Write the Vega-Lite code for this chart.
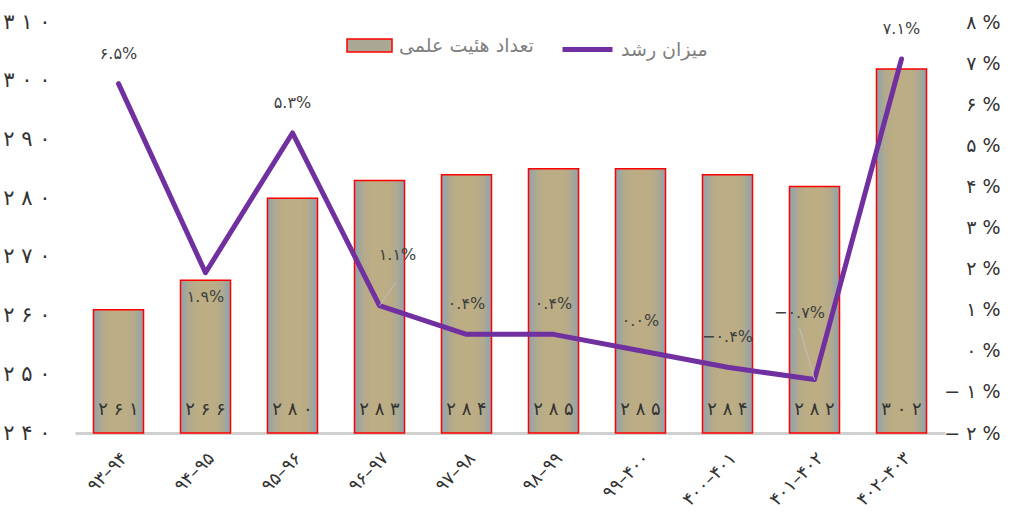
{
  "$schema": "https://vega.github.io/schema/vega-lite/v6.json",
  "width": 870,
  "height": 411,
  "autosize": {"type": "none"},
  "padding": {"left": 75, "top": 22, "right": 67, "bottom": 97},
  "background": "white",
  "config": {
    "view": {"stroke": null},
    "font": "DejaVu Sans"
  },
  "data": {
    "values": [
      {"p": "۹۳–۹۴", "n": 261, "nf": "۲ ۶ ۱", "g": 6.5, "gf": "۶.۵%"},
      {"p": "۹۴–۹۵", "n": 266, "nf": "۲ ۶ ۶", "g": 1.9, "gf": "۱.۹%"},
      {"p": "۹۵–۹۶", "n": 280, "nf": "۲ ۸ ۰", "g": 5.3, "gf": "۵.۳%"},
      {"p": "۹۶–۹۷", "n": 283, "nf": "۲ ۸ ۳", "g": 1.1, "gf": "۱.۱%"},
      {"p": "۹۷–۹۸", "n": 284, "nf": "۲ ۸ ۴", "g": 0.4, "gf": "۰.۴%"},
      {"p": "۹۸–۹۹", "n": 285, "nf": "۲ ۸ ۵", "g": 0.4, "gf": "۰.۴%"},
      {"p": "۹۹–۴۰۰", "n": 285, "nf": "۲ ۸ ۵", "g": 0.0, "gf": "۰.۰%"},
      {"p": "۴۰۰–۴۰۱", "n": 284, "nf": "۲ ۸ ۴", "g": -0.4, "gf": "−۰.۴%"},
      {"p": "۴۰۱–۴۰۲", "n": 282, "nf": "۲ ۸ ۲", "g": -0.7, "gf": "−۰.۷%"},
      {"p": "۴۰۲–۴۰۳", "n": 302, "nf": "۳ ۰ ۲", "g": 7.1, "gf": "۷.۱%"}
    ]
  },
  "encoding": {
    "x": {
      "field": "p",
      "type": "nominal",
      "sort": null,
      "scale": {"paddingInner": 0.425, "paddingOuter": 0.2125},
      "axis": {
        "title": null,
        "labelAngle": -45,
        "labelAlign": "right",
        "labelBaseline": "top",
        "labelPadding": 16,
        "labelFontSize": 18,
        "labelColor": "#333333",
        "ticks": false,
        "domainColor": "#d0d0d0",
        "domainWidth": 3
      }
    }
  },
  "layer": [
    {
      "layer": [
        {
          "mark": {
            "type": "bar", "stroke": "#ff0000", "strokeWidth": 1.5,
            "fill": {"gradient": "linear", "x1": 0, "y1": 0, "x2": 1, "y2": 0,
              "stops": [
                {"offset": 0, "color": "#8da2b0"},
                {"offset": 0.18, "color": "#b3aa8c"},
                {"offset": 0.35, "color": "#bcad84"},
                {"offset": 0.65, "color": "#bcad84"},
                {"offset": 0.82, "color": "#b3aa8c"},
                {"offset": 1, "color": "#8da2b0"}
              ]}
          },
          "encoding": {
            "y": {
              "field": "n",
              "type": "quantitative",
              "scale": {"domain": [240, 310], "zero": false, "nice": false},
              "axis": {
                "orient": "left",
                "title": null,
                "values": [240, 250, 260, 270, 280, 290, 300, 310],
                "labelExpr": "['۰','۱','۲','۳','۴','۵','۶','۷','۸','۹'][floor(datum.value/100)] + ' ' + ['۰','۱','۲','۳','۴','۵','۶','۷','۸','۹'][floor(datum.value/10)%10] + ' ' + ['۰','۱','۲','۳','۴','۵','۶','۷','۸','۹'][datum.value%10]",
                "labelFontSize": 21,
                "labelColor": "#333333",
                "labelPadding": 25,
                "ticks": false,
                "domain": false,
                "grid": false
              }
            },
            "y2": {"datum": 240}
          }
        },
        {
          "mark": {"type": "bar", "opacity": 0},
          "encoding": {
            "y": {"field": "n", "type": "quantitative"},
            "y2": {"datum": 240},
            "fill": {
              "datum": "تعداد هئیت علمی",
              "scale": {"range": ["#a8a894"]},
              "legend": {
                "orient": "none",
                "legendX": 271,
                "legendY": 0,
                "title": null,
                "padding": 0,
                "symbolType": "M-1,-0.29L1,-0.29L1,0.29L-1,0.29Z",
                "symbolSize": 2025,
                "symbolStrokeColor": "#ff0000",
                "symbolStrokeWidth": 1.5,
                "symbolOpacity": 1,
                "labelFontSize": 19,
                "labelColor": "#7f7f7f",
                "labelOffset": 6,
                "encode": {
                  "symbols": {
                    "update": {
                      "opacity": {"value": 1},
                      "stroke": {"value": "#ff0000"},
                      "strokeWidth": {"value": 1.5},
                      "fill": {"value": {"gradient": "linear", "x1": 0, "y1": 0, "x2": 1, "y2": 0,
                        "stops": [
                          {"offset": 0, "color": "#8a9fae"},
                          {"offset": 0.5, "color": "#a3a594"},
                          {"offset": 1, "color": "#8a9fae"}
                        ]}}
                    }
                  }
                }
              }
            }
          }
        },
        {
          "mark": {"type": "text", "fontSize": 18, "color": "#333333", "baseline": "middle", "dy": -23},
          "encoding": {
            "y": {"datum": 240, "type": "quantitative"},
            "text": {"field": "nf"}
          }
        }
      ]
    },
    {
      "layer": [
        {
          "mark": {"type": "line", "strokeWidth": 5, "strokeCap": "round", "strokeJoin": "round"},
          "encoding": {
            "y": {
              "field": "g",
              "type": "quantitative",
              "scale": {"domain": [-2, 8], "nice": false},
              "axis": {
                "orient": "right",
                "title": null,
                "values": [-2, -1, 0, 1, 2, 3, 4, 5, 6, 7, 8],
                "labelExpr": "(datum.value < 0 ? '− ' : '') + ['۰','۱','۲','۳','۴','۵','۶','۷','۸','۹'][abs(datum.value)] + ' %'",
                "labelFontSize": 19,
                "labelColor": "#333333",
                "labelAlign": "right",
                "labelPadding": 55,
                "ticks": false,
                "domain": false,
                "grid": false
              }
            },
            "stroke": {
              "datum": "میزان رشد",
              "scale": {"range": ["#7030a0"]},
              "legend": {
                "orient": "none",
                "legendX": 485,
                "legendY": 0,
                "title": null,
                "padding": 0,
                "symbolType": "stroke",
                "symbolSize": 2500,
                "symbolStrokeWidth": 5,
                "labelFontSize": 19,
                "labelColor": "#7f7f7f",
                "labelOffset": 6
              }
            }
          }
        },
        {
          "transform": [{"filter": "datum.g != 1.9 && datum.g != 1.1 && datum.g != -0.7"}],
          "mark": {"type": "text", "fontSize": 16, "color": "#404040", "baseline": "middle", "dy": -30},
          "encoding": {"y": {"field": "g", "type": "quantitative"}, "text": {"field": "gf"}}
        },
        {
          "transform": [{"filter": "datum.g == 1.9"}],
          "mark": {"type": "text", "fontSize": 16, "color": "#404040", "baseline": "middle", "dy": 24},
          "encoding": {"y": {"field": "g", "type": "quantitative"}, "text": {"field": "gf"}}
        },
        {
          "transform": [{"filter": "datum.g == 1.1"}],
          "mark": {"type": "text", "fontSize": 16, "color": "#404040", "baseline": "middle", "dx": 18, "dy": -51},
          "encoding": {"y": {"field": "g", "type": "quantitative"}, "text": {"field": "gf"}}
        },
        {
          "transform": [{"filter": "datum.g == -0.7"}],
          "mark": {"type": "text", "fontSize": 16, "color": "#404040", "baseline": "middle", "dx": -15, "dy": -67},
          "encoding": {"y": {"field": "g", "type": "quantitative"}, "text": {"field": "gf"}}
        },
        {
          "transform": [{"filter": "datum.g == 1.1"}],
          "mark": {"type": "rule", "color": "#bfbfbf", "strokeWidth": 1, "x2Offset": 17, "y2Offset": -24},
          "encoding": {
            "y": {"field": "g", "type": "quantitative"},
            "y2": {"field": "g"},
            "x2": {"field": "p", "bandPosition": 0.5}
          }
        },
        {
          "transform": [{"filter": "datum.g == -0.7"}],
          "mark": {"type": "rule", "color": "#bfbfbf", "strokeWidth": 1, "x2Offset": -15, "y2Offset": -52},
          "encoding": {
            "y": {"field": "g", "type": "quantitative"},
            "y2": {"field": "g"},
            "x2": {"field": "p", "bandPosition": 0.5}
          }
        }
      ]
    }
  ],
  "resolve": {"scale": {"y": "independent"}}
}
